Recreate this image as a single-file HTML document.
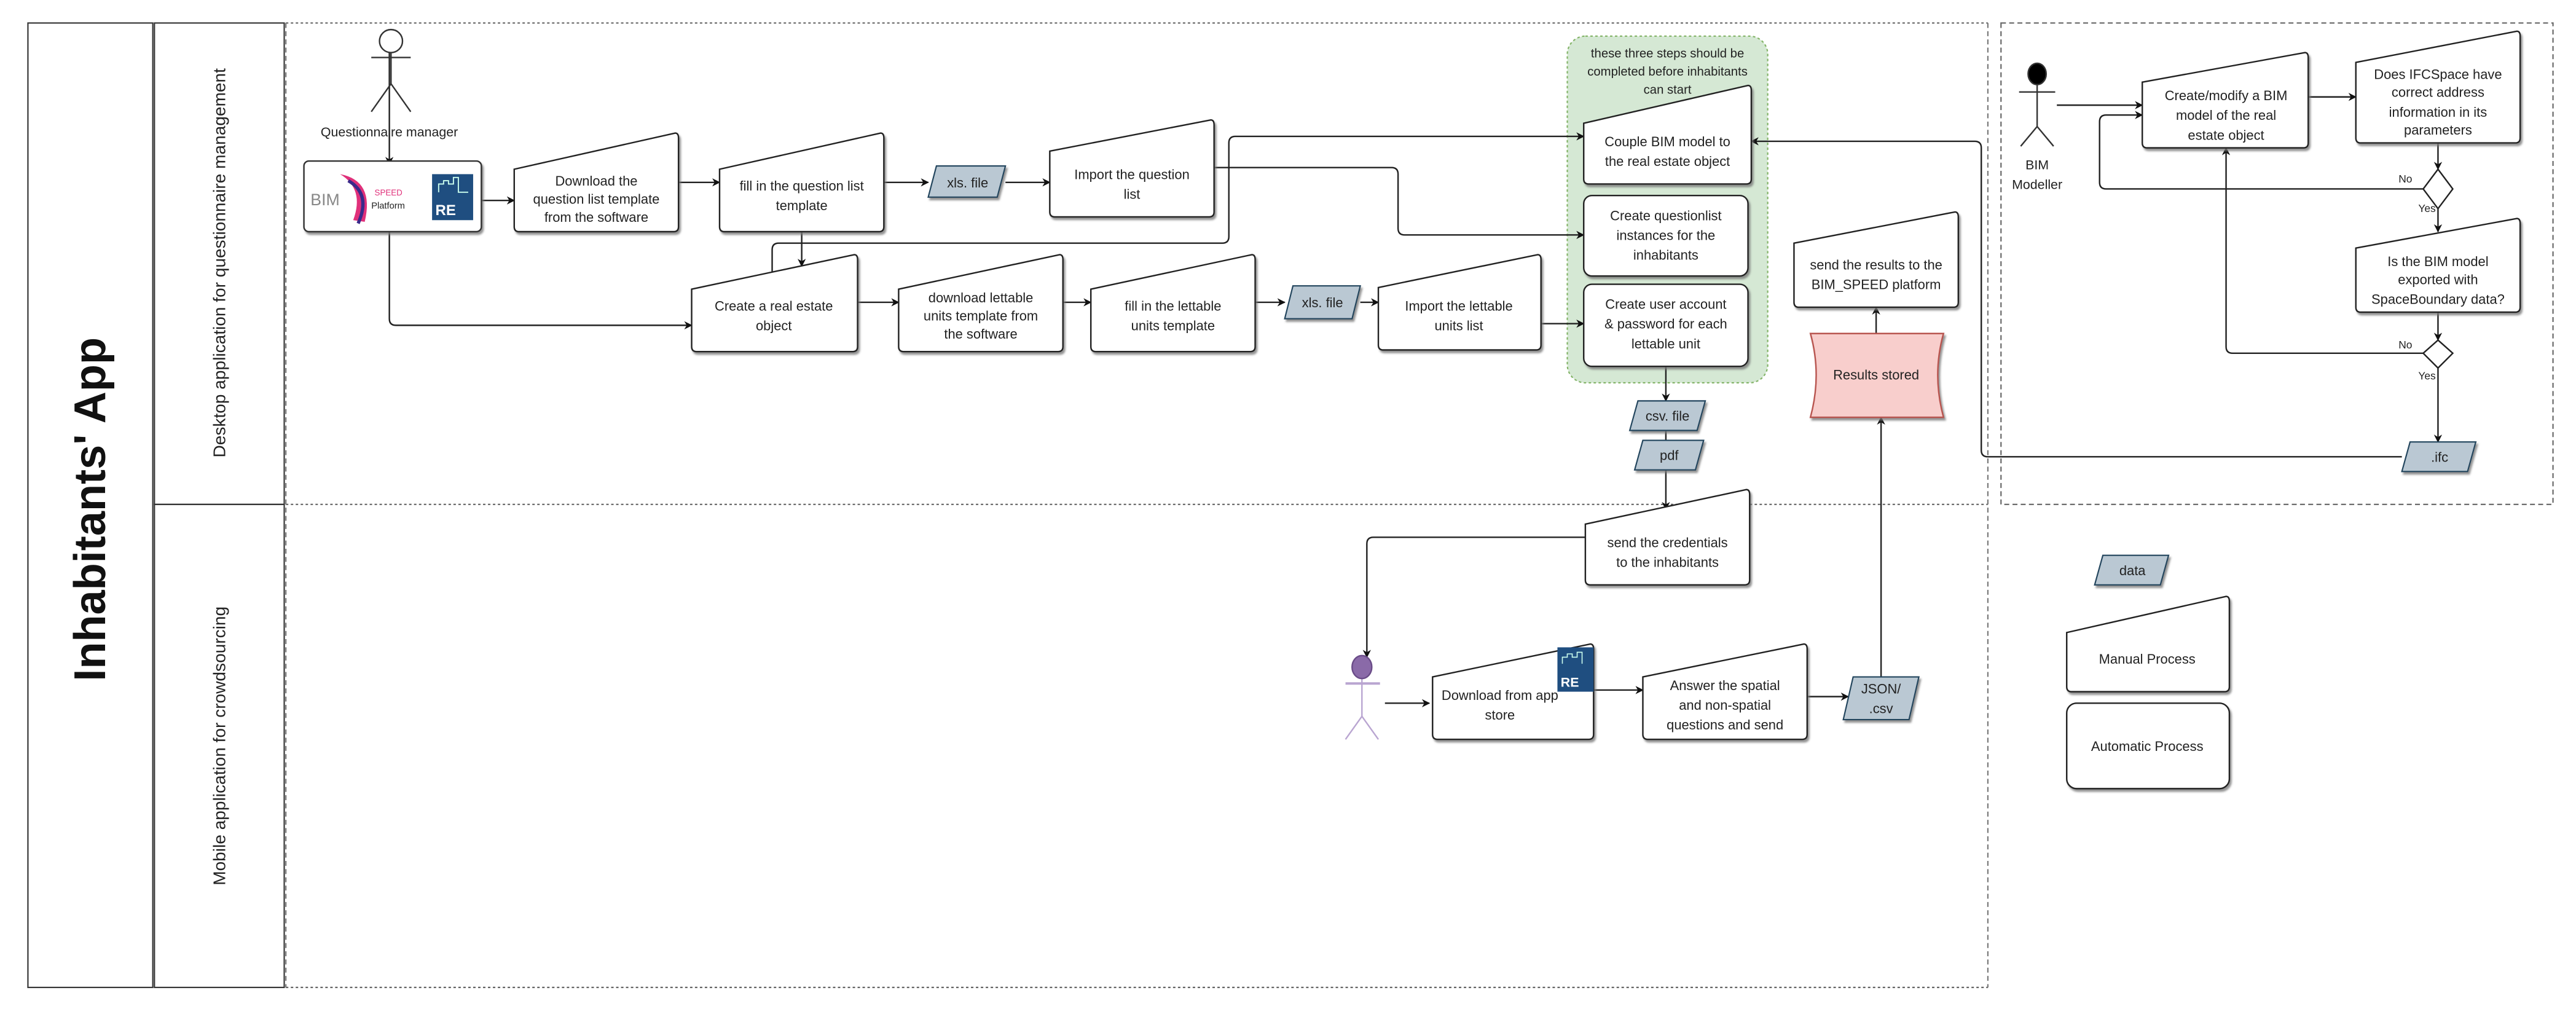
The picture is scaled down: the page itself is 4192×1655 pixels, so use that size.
<!DOCTYPE html>
<html><head><meta charset="utf-8"><style>
html,body{margin:0;padding:0;background:#fff;}
svg{display:block;}
text{font-family:"Liberation Sans",sans-serif;fill:#222;}
</style></head><body>
<svg width="4192" height="1655" viewBox="0 0 1568 619" preserveAspectRatio="none" xmlns="http://www.w3.org/2000/svg">
<defs>
<marker id="a" viewBox="0 0 10 10" refX="9" refY="5" markerWidth="5" markerHeight="5" orient="auto" markerUnits="userSpaceOnUse"><path d="M0,0 L10,5 L0,10 L3,5 Z" fill="#111"/></marker>
<filter id="sh" x="-10%" y="-10%" width="130%" height="130%"><feDropShadow dx="1" dy="1.5" stdDeviation="0.6" flood-color="#777" flood-opacity="0.8"/></filter>
</defs>
<g fill="none" stroke="#444" stroke-width="0.8">
<!-- pool -->
<rect x="17" y="14" width="76" height="587" stroke="#333"/>
<rect x="94" y="14" width="79" height="293" stroke="#333"/>
<rect x="94" y="307" width="79" height="294" stroke="#333"/>
<path d="M174 14 H1210 M174 307 H1210 M174 601 H1210" stroke-dasharray="1.5,1.5" stroke="#666"/>
<path d="M174 14 V601 M1210 14 V601" stroke-dasharray="3,2" stroke="#777"/>
<rect x="1218" y="14" width="336" height="293" stroke-dasharray="3,2" stroke="#666"/>
</g>
<text x="0" y="0" transform="translate(64,310) rotate(-90)" font-size="27" font-weight="bold" text-anchor="middle" style="fill:#111">Inhabitants' App</text>
<text transform="translate(137,160) rotate(-90)" font-size="10.5" text-anchor="middle">Desktop application for questionnaire management</text>
<text transform="translate(137,454) rotate(-90)" font-size="10.5" text-anchor="middle">Mobile application for crowdsourcing</text>

<!-- green group -->
<rect x="954" y="22" width="122" height="211" rx="11" fill="#d5e8d4" stroke="#82b366" stroke-dasharray="1.5,1.5" stroke-width="0.8"/>
<text font-size="7.6" text-anchor="middle"><tspan x="1015" y="35">these three steps should be</tspan><tspan x="1015" y="46">completed before inhabitants</tspan><tspan x="1015" y="57">can start</tspan></text>

<!-- connectors -->
<g fill="none" stroke="#222" stroke-width="0.9">
<path d="M237 32 V100" marker-end="url(#a)"/>
<path d="M292 122 H313" marker-end="url(#a)"/>
<path d="M413 111 H438" marker-end="url(#a)"/>
<path d="M538 111 H565" marker-end="url(#a)"/>
<path d="M612 111 H639" marker-end="url(#a)"/>
<path d="M488 141 V162" marker-end="url(#a)"/>
<path d="M237 141 V194 Q237 198 241 198 H421" marker-end="url(#a)"/>
<path d="M470 168 V152 Q470 148 474 148 H744 Q748 148 748 144 V87 Q748 83 752 83 H964" marker-end="url(#a)"/>
<path d="M739 102 H847 Q851 102 851 106 V139 Q851 143 855 143 H964" marker-end="url(#a)"/>
<path d="M522 184 H547" marker-end="url(#a)"/>
<path d="M647 184 H664" marker-end="url(#a)"/>
<path d="M764 184 H782" marker-end="url(#a)"/>
<path d="M828 184 H839" marker-end="url(#a)"/>
<path d="M938 197 H964" marker-end="url(#a)"/>
<path d="M1014 223 V244" marker-end="url(#a)"/>
<path d="M1014 262 V268"/>
<path d="M1014 286 V310" marker-end="url(#a)"/>
<path d="M965 327 H836 Q832 327 832 331 V400" marker-end="url(#a)"/>
<path d="M843 428 H870" marker-end="url(#a)"/>
<path d="M970 420 H1000" marker-end="url(#a)"/>
<path d="M1100 424 H1125" marker-end="url(#a)"/>
<path d="M1145 412 V254" marker-end="url(#a)"/>
<path d="M1142 203 V187" marker-end="url(#a)"/>
<path d="M1462 278 H1210 Q1206 278 1206 274 V90 Q1206 86 1202 86 H1066" marker-end="url(#a)"/>
<path d="M1252 64 H1304" marker-end="url(#a)"/>
<path d="M1405 59 H1434" marker-end="url(#a)"/>
<path d="M1484 87 V103" marker-end="url(#a)"/>
<path d="M1475 115 H1282 Q1278 115 1278 111 V74 Q1278 70 1282 70 H1304" marker-end="url(#a)"/>
<path d="M1484 127 V141" marker-end="url(#a)"/>
<path d="M1484 190 V207" marker-end="url(#a)"/>
<path d="M1475 215 H1359 Q1355 215 1355 211 V90" marker-end="url(#a)"/>
<path d="M1484 224 V269" marker-end="url(#a)"/>
</g>
<g font-size="6.5"><text x="1460" y="111">No</text><text x="1472" y="129">Yes</text><text x="1460" y="212">No</text><text x="1472" y="231">Yes</text></g>

<!-- actors -->
<g fill="none" stroke="#333" stroke-width="0.9">
<circle cx="238" cy="25" r="7" fill="#fff"/>
<path d="M238 32 V51 M226 35 H250 M238 51 L226 68 M238 51 L250 68"/>
<ellipse cx="1240" cy="45" rx="5.5" ry="6.5" fill="#000"/>
<path d="M1240 51 V77 M1229 56 H1251 M1240 77 L1230 89 M1240 77 L1250 89"/>
<path d="M829 413 V436 M829 436 L819 450 M829 436 L839 450" stroke="#b9a5d1"/>
<path d="M819 416 H840" stroke="#b9a5d1" stroke-width="1.5"/>
<ellipse cx="829" cy="406" rx="6" ry="7" fill="#8a6aa8" stroke="#6a4c88"/>
</g>
<text x="237" y="83" font-size="8" text-anchor="middle">Questionnaire manager</text>
<text font-size="8" text-anchor="middle"><tspan x="1240" y="103">BIM</tspan><tspan x="1240" y="115">Modeller</tspan></text>

<!-- logo box -->
<g filter="url(#sh)"><rect x="185" y="98" width="108" height="43" rx="3" fill="#fff" stroke="#333" stroke-width="0.9"/></g>
<text x="189" y="125" font-size="10" style="fill:#888">BIM</text>
<path d="M207 106 Q228 110 222 135 L215 134 Q222 115 207 106Z" fill="#e0307a"/>
<path d="M212 110 Q226 118 218 136" stroke="#3a2a8a" stroke-width="2" fill="none"/>
<text x="228" y="119" font-size="5" style="fill:#e0307a">SPEED</text>
<text x="226" y="127" font-size="5.5">Platform</text>
<rect x="263" y="106" width="25" height="28" fill="#1f4e80"/>
<text x="265" y="131" font-size="9" font-weight="bold" style="fill:#fff">RE</text>
<path d="M267 117 V112 h3 V110 h3 v2 h3 V108 h3 v9 h6" stroke="#cfe" stroke-width="0.7" fill="none"/>

<!-- manual process shapes -->
<g fill="#fff" stroke="#222" stroke-width="0.9" filter="url(#sh)">
<path d="M313 103 L411 81 Q413 81 413 84 V138 Q413 141 410 141 H316 Q313 141 313 138 Z"/>
<path d="M438 103 L536 81 Q538 81 538 84 V138 Q538 141 535 141 H441 Q438 141 438 138 Z"/>
<path d="M639 92 L737 73 Q739 73 739 76 V129 Q739 132 736 132 H642 Q639 132 639 129 Z"/>
<path d="M421 176 L520 155 Q522 155 522 158 V211 Q522 214 519 214 H424 Q421 214 421 211 Z"/>
<path d="M547 176 L645 155 Q647 155 647 158 V211 Q647 214 644 214 H550 Q547 214 547 211 Z"/>
<path d="M664 176 L762 155 Q764 155 764 158 V211 Q764 214 761 214 H667 Q664 214 664 211 Z"/>
<path d="M839 175 L936 155 Q938 155 938 158 V210 Q938 213 935 213 H842 Q839 213 839 210 Z"/>
<path d="M964 75 L1064 52 Q1066 52 1066 55 V109 Q1066 112 1063 112 H967 Q964 112 964 109 Z"/>
<rect x="964" y="119" width="100" height="49" rx="5"/>
<rect x="964" y="173" width="100" height="50" rx="5"/>
<path d="M1092 148 L1190 129 Q1192 129 1192 132 V184 Q1192 187 1189 187 H1095 Q1092 187 1092 184 Z"/>
<path d="M965 319 L1063 298 Q1065 298 1065 301 V353 Q1065 356 1062 356 H968 Q965 356 965 353 Z"/>
<path d="M872 412 L968 392 Q970 392 970 395 V447 Q970 450 967 450 H875 Q872 450 872 447 Z"/>
<path d="M1000 412 L1098 392 Q1100 392 1100 395 V447 Q1100 450 1097 450 H1003 Q1000 450 1000 447 Z"/>
<path d="M1304 50 L1403 32 Q1405 32 1405 35 V87 Q1405 90 1402 90 H1307 Q1304 90 1304 87 Z"/>
<path d="M1434 38 L1532 19 Q1534 19 1534 22 V84 Q1534 87 1531 87 H1437 Q1434 87 1434 84 Z"/>
<path d="M1434 151 L1532 133 Q1534 133 1534 136 V187 Q1534 190 1531 190 H1437 Q1434 190 1434 187 Z"/>
<path d="M1258 385 L1355 363 Q1357 363 1357 366 V418 Q1357 421 1354 421 H1261 Q1258 421 1258 418 Z"/>
<rect x="1258" y="428" width="99" height="52" rx="6"/>
</g>
<!-- diamonds -->
<g fill="#fff" stroke="#222" stroke-width="0.9">
<path d="M1484 103 L1493 115 L1484 127 L1475 115 Z"/>
<path d="M1484 207 L1493 215 L1484 224 L1475 215 Z"/>
</g>
<!-- RE logo on app store -->
<rect x="948" y="394" width="22" height="27" fill="#1f4e80"/>
<text x="950" y="418" font-size="8" font-weight="bold" style="fill:#fff">RE</text>
<path d="M951 404 V400 h3 v-2 h3 v2 h3 v-3 h3 v7" stroke="#cfe" stroke-width="0.6" fill="none"/>

<!-- data shapes -->
<g fill="#bac8d3" stroke="#23445d" stroke-width="0.8" filter="url(#sh)">
<path d="M570 101 H612 L607 120 H565 Z"/>
<path d="M787 174 H828 L823 194 H782 Z"/>
<path d="M997 244 H1038 L1033 262 H992 Z"/>
<path d="M1000 268 H1037 L1032 286 H995 Z"/>
<path d="M1128 412 H1168 L1162 438 H1122 Z"/>
<path d="M1467 269 H1507 L1502 287 H1462 Z"/>
<path d="M1280 338 H1320 L1315 356 H1275 Z"/>
</g>
<!-- results stored -->
<path d="M1102 203 H1183 Q1176 228 1183 254 H1102 Q1109 228 1102 203 Z" fill="#f8cecc" stroke="#b85450" stroke-width="0.9" filter="url(#sh)"/>

<!-- labels -->
<g font-size="8.2" text-anchor="middle">
<text><tspan x="363" y="113">Download the</tspan><tspan x="363" y="124">question list template</tspan><tspan x="363" y="135">from the software</tspan></text>
<text><tspan x="488" y="116">fill in the question list</tspan><tspan x="488" y="128">template</tspan></text>
<text x="589" y="114">xls. file</text>
<text><tspan x="689" y="109">Import the question</tspan><tspan x="689" y="121">list</tspan></text>
<text><tspan x="471" y="189">Create a real estate</tspan><tspan x="471" y="201">object</tspan></text>
<text><tspan x="597" y="184">download lettable</tspan><tspan x="597" y="195">units template from</tspan><tspan x="597" y="206">the software</tspan></text>
<text><tspan x="714" y="189">fill in the lettable</tspan><tspan x="714" y="201">units template</tspan></text>
<text x="805" y="187">xls. file</text>
<text><tspan x="888" y="189">Import the lettable</tspan><tspan x="888" y="201">units list</tspan></text>
<text><tspan x="1015" y="89">Couple BIM model to</tspan><tspan x="1015" y="101">the real estate object</tspan></text>
<text><tspan x="1014" y="134">Create questionlist</tspan><tspan x="1014" y="146">instances for the</tspan><tspan x="1014" y="158">inhabitants</tspan></text>
<text><tspan x="1014" y="188">Create user account</tspan><tspan x="1014" y="200">&amp; password for each</tspan><tspan x="1014" y="212">lettable unit</tspan></text>
<text x="1015" y="256">csv. file</text>
<text x="1016" y="280">pdf</text>
<text><tspan x="1142" y="164">send the results to the</tspan><tspan x="1142" y="176">BIM_SPEED platform</tspan></text>
<text x="1142" y="231">Results stored</text>
<text><tspan x="1015" y="333">send the credentials</tspan><tspan x="1015" y="345">to the inhabitants</tspan></text>
<text><tspan x="913" y="426">Download from app</tspan><tspan x="913" y="438">store</tspan></text>
<text><tspan x="1050" y="420">Answer the spatial</tspan><tspan x="1050" y="432">and non-spatial</tspan><tspan x="1050" y="444">questions and send</tspan></text>
<text><tspan x="1145" y="422">JSON/</tspan><tspan x="1145" y="434">.csv</tspan></text>
<text><tspan x="1355" y="61">Create/modify a BIM</tspan><tspan x="1355" y="73">model of the real</tspan><tspan x="1355" y="85">estate object</tspan></text>
<text><tspan x="1484" y="48">Does IFCSpace have</tspan><tspan x="1484" y="59">correct address</tspan><tspan x="1484" y="71">information in its</tspan><tspan x="1484" y="82">parameters</tspan></text>
<text><tspan x="1484" y="162">Is the BIM model</tspan><tspan x="1484" y="173">exported with</tspan><tspan x="1484" y="185">SpaceBoundary data?</tspan></text>
<text x="1485" y="281">.ifc</text>
<text x="1298" y="350">data</text>
<text x="1307" y="404">Manual Process</text>
<text x="1307" y="457">Automatic Process</text>
</g>
</svg>
</body></html>
